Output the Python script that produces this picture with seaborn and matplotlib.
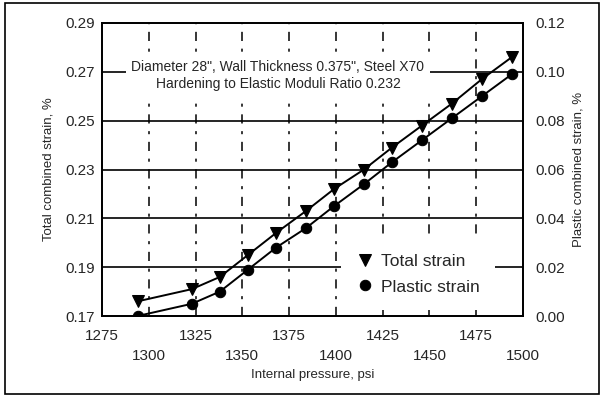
import matplotlib
matplotlib.use("Agg")
import matplotlib.pyplot as plt
import seaborn as sns
import pandas as pd
from matplotlib.patches import Rectangle

pressure = [1294, 1323, 1338, 1353, 1368, 1384, 1399, 1415, 1430, 1446, 1462, 1478, 1494]
total_strain = [0.176, 0.181, 0.186, 0.195, 0.204, 0.213, 0.222, 0.230, 0.239, 0.248, 0.257, 0.267, 0.276]
plastic_strain = [0.000, 0.005, 0.010, 0.019, 0.028, 0.036, 0.045, 0.054, 0.063, 0.072, 0.081, 0.090, 0.099]

x_major = [1275, 1325, 1375, 1425, 1475]
x_minor = [1300, 1350, 1400, 1450, 1500]
left_ticks = [0.17, 0.19, 0.21, 0.23, 0.25, 0.27, 0.29]
right_ticks = [0.00, 0.02, 0.04, 0.06, 0.08, 0.10, 0.12]

sns.set_style("white")
plt.rcParams['font.family'] = ['Liberation Sans', 'DejaVu Sans']

df = pd.DataFrame({"pressure": pressure, "total": total_strain, "plastic": plastic_strain})

fig = plt.figure(figsize=(6.05, 3.97), dpi=100)
ax = fig.add_axes([102/605, 1-316/397, 421/605, 293/397])
ax2 = ax.twinx()

sns.lineplot(data=df, x="pressure", y="total", ax=ax, color="black", lw=1.4,
             marker="v", markersize=8, markeredgecolor="black", label="Total strain", legend=False)
sns.lineplot(data=df, x="pressure", y="plastic", ax=ax2, color="black", lw=1.4,
             marker="o", markersize=7.5, markeredgecolor="black", label="Plastic strain", legend=False)

ax.set_xlim(1275, 1500)
ax.set_ylim(0.17, 0.29)
ax2.set_ylim(0.0, 0.12)

ax.set_yticks(left_ticks)
ax.set_yticklabels([f"{v:.2f}" for v in left_ticks])
ax2.set_yticks(right_ticks)
ax2.set_yticklabels([f"{v:.2f}" for v in right_ticks])

ax.set_xticks(x_major)
ax.set_xticklabels([str(v) for v in x_major])
ax.set_xticks(x_minor, minor=True)
ax.set_xticklabels([str(v) for v in x_minor], minor=True)

ax.tick_params(axis='x', which='major', length=0, pad=9, labelsize=11)
ax.tick_params(axis='x', which='minor', length=0, pad=24, labelsize=11)
ax.tick_params(axis='y', length=0, pad=5, labelsize=11)
ax2.tick_params(axis='y', length=0, pad=9, labelsize=11)

# grid
for y in left_ticks[1:-1]:
    ax.axhline(y, color="black", lw=1.2, zorder=0.5)
for xv in [1300, 1325, 1350, 1375, 1400, 1425, 1450, 1475]:
    ax.axvline(xv, color="black", lw=1.1, ls=(0, (6, 5, 2, 5)), zorder=0.5)

ax.set_xlabel("Internal pressure, psi", fontsize=9.5, labelpad=4)
ax.set_ylabel("Total combined strain, %", fontsize=9.5, labelpad=8)
ax2.set_ylabel("Plastic combined strain, %", fontsize=9.5, labelpad=5)

for a in (ax, ax2):
    for s in a.spines.values():
        s.set_linewidth(1.3)
        s.set_color("black")

ax2.text(0.418, 0.821,
         "Diameter 28\", Wall Thickness 0.375\", Steel X70\nHardening to Elastic Moduli Ratio 0.232",
         transform=ax.transAxes, ha="center", va="center", fontsize=10, linespacing=1.3,
         bbox=dict(facecolor="white", edgecolor="none", pad=4), zorder=5)

h1, l1 = ax.get_legend_handles_labels()
h2, l2 = ax2.get_legend_handles_labels()
leg = ax2.legend(h1 + h2, l1 + l2, loc="center", bbox_to_anchor=(418/605, 1-274/397),
                 bbox_transform=fig.transFigure, fontsize=12.5, frameon=True,
                 facecolor="white", edgecolor="none", framealpha=1, fancybox=False,
                 handlelength=1.0, handletextpad=0.4, labelspacing=0.62, borderpad=0.9)
for h in leg.legend_handles:
    h.set_linestyle("None")

fig.add_artist(Rectangle((5/605, 3/397), 594/605, 391/397, transform=fig.transFigure,
                         fill=False, edgecolor="black", lw=1.2))

fig.savefig("out.png", dpi=100)
